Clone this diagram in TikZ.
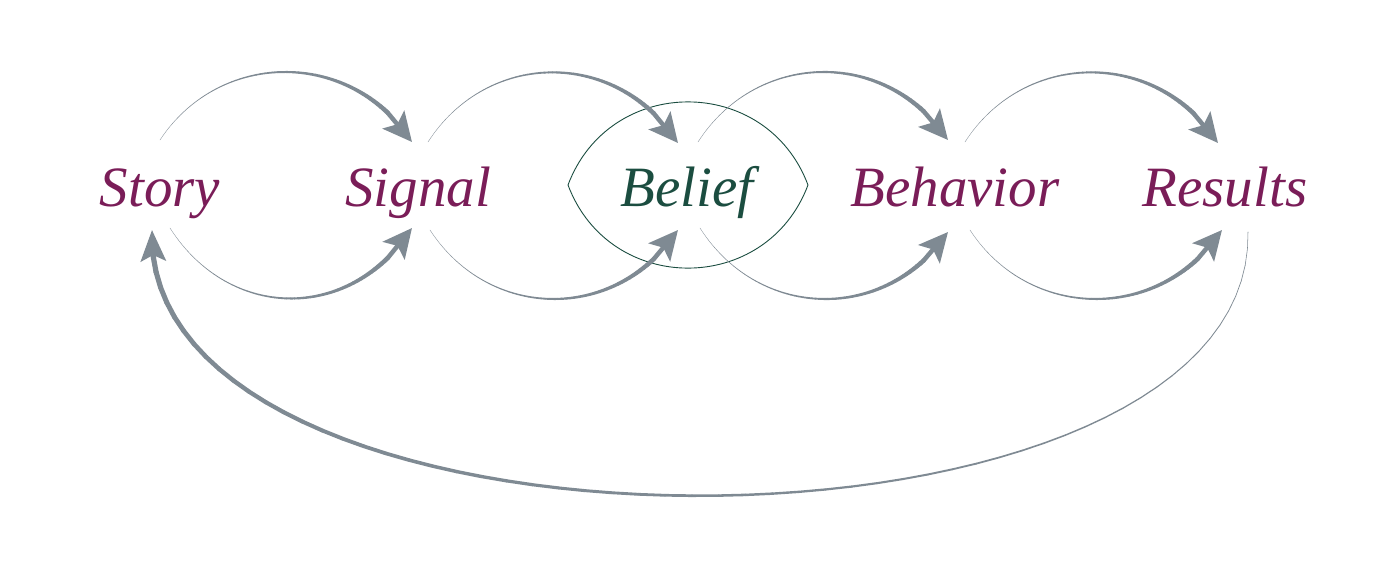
\documentclass[tikz,border=0pt]{standalone}
\usepackage{fontspec}
\setmainfont{Liberation Serif}
\usetikzlibrary{calc,arrows.meta}
\definecolor{arrowgray}{HTML}{7F8A93}
\definecolor{wordred}{HTML}{7A1D58}
\definecolor{beliefgreen}{HTML}{1B4D40}
\newcommand\bzpt[5]{($ {(1-#5)^3}*(#1) + {3*(1-#5)^2*#5}*(#2) + {3*(1-#5)*#5^2}*(#3) + {#5^3}*(#4) $)}
% #1..#4 Bezier points, #5 start width, #6 end width, #7 t where the head starts, #8 head style, #9 taper exponent
\newcommand\taperarrow[9]{%
  \foreach \i in {1,...,60}{%
    \pgfmathsetmacro\ta{(\i-1)/60*#7}%
    \pgfmathsetmacro\tb{\i/60*#7}%
    \pgfmathsetmacro\w{#5+(#6-#5)*(\tb/#7)^#9}%
    \draw[flow, line width=\w pt] \bzpt{#1}{#2}{#3}{#4}{\ta} -- \bzpt{#1}{#2}{#3}{#4}{\tb};
  }%
  \draw[flow, line width=#6pt, #8] \bzpt{#1}{#2}{#3}{#4}{#7} -- (#4);
}
\tikzset{
  word/.style={anchor=base, text=wordred, font=\fontsize{57}{60}\selectfont\itshape, inner sep=0pt},
  flow/.style={draw=arrowgray, line cap=round},
  headsmall/.style={-{Stealth[length=29pt,width=28pt,inset=6pt]}},
  headbig/.style={-{Stealth[length=31pt,width=25pt,inset=6pt]}},
  lens/.style={draw=beliefgreen, line width=0.9pt}
}
\begin{document}
\begin{tikzpicture}[x=1pt,y=-1pt]
\useasboundingbox (0,0) rectangle (1376,568);
% lens around Belief
\coordinate (lensL) at (568,185);
\coordinate (lensR) at (808,185);
\draw[lens] (lensL) .. controls (609.7,74.2) and (766.3,74.2) .. (lensR)
  .. controls (766.3,295.8) and (609.7,295.8) .. (lensL) -- cycle;
% words
\node[word] (story) at (160,206) {Story};
\node[word] (signal) at (418,206) {Signal};
\node[word, text=beliefgreen] (belief) at (687,206) {Belief};
\node[word] (behavior) at (955,206) {Behavior};
\node[word] (results) at (1225,206) {Results};
% end points of loops
\coordinate (a1s) at (160,140); \coordinate (a1c1) at (220,49); \coordinate (a1c2) at (352,49); \coordinate (a1e) at (412,142);
\coordinate (b1s) at (170,228); \coordinate (b1c1) at (230,322); \coordinate (b1c2) at (352,322); \coordinate (b1e) at (412,228);
\coordinate (a2s) at (428,142); \coordinate (a2c1) at (488,49); \coordinate (a2c2) at (618,49); \coordinate (a2e) at (678,143);
\coordinate (b2s) at (430,230); \coordinate (b2c1) at (490,322); \coordinate (b2c2) at (618,322); \coordinate (b2e) at (678,230);
\coordinate (a3s) at (698,142); \coordinate (a3c1) at (758,49); \coordinate (a3c2) at (888,49); \coordinate (a3e) at (948,140);
\coordinate (b3s) at (700,228); \coordinate (b3c1) at (760,322); \coordinate (b3c2) at (888,322); \coordinate (b3e) at (948,232);
\coordinate (a4s) at (965,142); \coordinate (a4c1) at (1025,49); \coordinate (a4c2) at (1158,49); \coordinate (a4e) at (1218,143);
\coordinate (b4s) at (970,230); \coordinate (b4c1) at (1030,322); \coordinate (b4c2) at (1162,322); \coordinate (b4e) at (1222,230);
\coordinate (rs) at (1248,232); \coordinate (rc1) at (1255,584); \coordinate (rc2) at (140,584); \coordinate (re) at (152,230);
% loops
\taperarrow{a1s}{a1c1}{a1c2}{a1e}{0.3}{4.5}{0.88}{headsmall}{1.6}
\taperarrow{b1s}{b1c1}{b1c2}{b1e}{0.3}{4.5}{0.88}{headsmall}{1.6}
\taperarrow{a2s}{a2c1}{a2c2}{a2e}{0.3}{4.5}{0.88}{headsmall}{1.6}
\taperarrow{b2s}{b2c1}{b2c2}{b2e}{0.3}{4.5}{0.88}{headsmall}{1.6}
\taperarrow{a3s}{a3c1}{a3c2}{a3e}{0.3}{4.5}{0.88}{headsmall}{1.6}
\taperarrow{b3s}{b3c1}{b3c2}{b3e}{0.3}{4.5}{0.88}{headsmall}{1.6}
\taperarrow{a4s}{a4c1}{a4c2}{a4e}{0.3}{4.5}{0.88}{headsmall}{1.6}
\taperarrow{b4s}{b4c1}{b4c2}{b4e}{0.3}{4.5}{0.88}{headsmall}{1.6}
% return
\taperarrow{rs}{rc1}{rc2}{re}{0.5}{5.2}{0.975}{headbig}{1.2}
\end{tikzpicture}
\end{document}
